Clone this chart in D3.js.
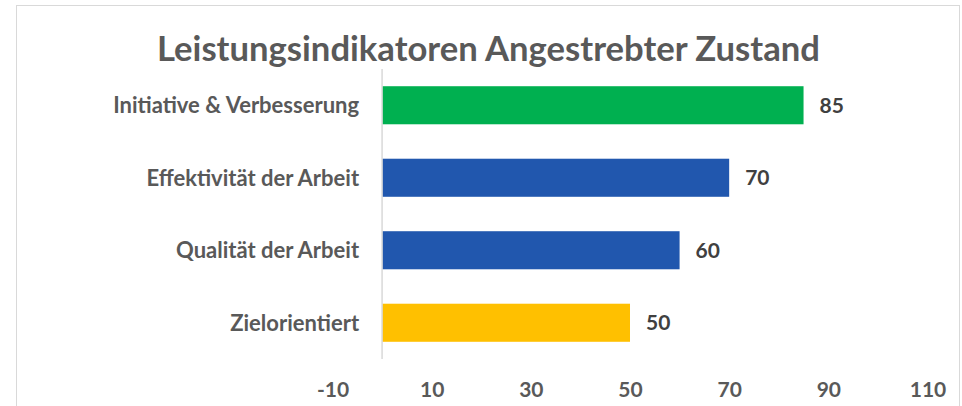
<!DOCTYPE html>
<html>
<head>
<meta charset="utf-8">
<script src="https://cdn.jsdelivr.net/npm/d3@7"></script>
<style>
  html, body { margin: 0; padding: 0; background: #fff; }
  svg { display: block; }
</style>
</head>
<body>
<div id="chart"></div>
<script>
// chart data
const categories = ['Initiative & Verbesserung', 'Effektivität der Arbeit', 'Qualität der Arbeit', 'Zielorientiert'];
const values = [85, 70, 60, 50];
const barColors = ['#00B050', '#2157AE', '#2157AE', '#FFC000'];
const xTicks = [-10, 10, 30, 50, 70, 90, 110];
const title = 'Leistungsindikatoren Angestrebter Zustand';

const width = 962, height = 406;
const margin = { top: 69, right: 34, bottom: 47, left: 332.5 };
const font = "Lato, 'Open Sans', sans-serif";

const svg = d3.select('#chart')
  .append('svg')
  .attr('width', width)
  .attr('height', height)
  .style('font-family', font);

// chart frame
svg.append('rect')
  .attr('x', 16.5).attr('y', 5.5)
  .attr('width', 943).attr('height', 420)
  .attr('fill', '#fff')
  .attr('stroke', '#d9d9d9');

const x = d3.scaleLinear()
  .domain([-10, 110])
  .range([margin.left, width - margin.right - 0.5]);

const y = d3.scaleBand()
  .domain(categories)
  .range([margin.top, height - margin.bottom])
  .paddingInner(0.475)
  .paddingOuter(0.2375);

svg.append('text')
  .attr('x', 488.5)
  .attr('y', 61)
  .attr('text-anchor', 'middle')
  .attr('fill', '#595959')
  .style('font-size', '34px')
  .style('font-weight', 'bold')
  .attr('textLength', 663)
  .attr('lengthAdjust', 'spacingAndGlyphs')
  .text(title);

// bars
svg.selectAll('rect.bar')
  .data(values)
  .join('rect')
  .attr('class', 'bar')
  .attr('x', x(0))
  .attr('y', (d, i) => y(categories[i]))
  .attr('width', d => x(d) - x(0))
  .attr('height', y.bandwidth())
  .attr('fill', (d, i) => barColors[i]);

// vertical axis line at zero
svg.append('line')
  .attr('x1', x(0)).attr('x2', x(0))
  .attr('y1', margin.top).attr('y2', height - margin.bottom)
  .attr('stroke', '#d9d9d9')
  .attr('stroke-width', 1.5);

// category labels
svg.selectAll('text.cat')
  .data(categories)
  .join('text')
  .attr('class', 'cat')
  .attr('x', x(0) - 23)
  .attr('y', d => y(d) + y.bandwidth() / 2)
  .attr('dy', '0.36em')
  .attr('text-anchor', 'end')
  .attr('fill', '#595959')
  .style('font-size', '22px')
  .style('font-weight', 'bold')
  .text(d => d);

// value labels
svg.selectAll('text.val')
  .data(values)
  .join('text')
  .attr('class', 'val')
  .attr('x', d => x(d) + 16)
  .attr('y', (d, i) => y(categories[i]) + y.bandwidth() / 2)
  .attr('dy', '0.36em')
  .attr('fill', '#404040')
  .style('font-size', '21px')
  .style('font-weight', 'bold')
  .text(d => d);

// x axis labels
const xAxis = svg.append('g')
  .attr('transform', `translate(0,${height - margin.bottom})`)
  .call(d3.axisBottom(x).tickValues(xTicks).tickFormat(d => String(d)).tickSize(0).tickPadding(23))
  .call(g => g.select('.domain').remove());

xAxis.selectAll('.tick text')
  .attr('fill', '#595959')
  .style('font-family', font)
  .style('font-size', '21px')
  .style('font-weight', 'bold');
</script>
</body>
</html>
